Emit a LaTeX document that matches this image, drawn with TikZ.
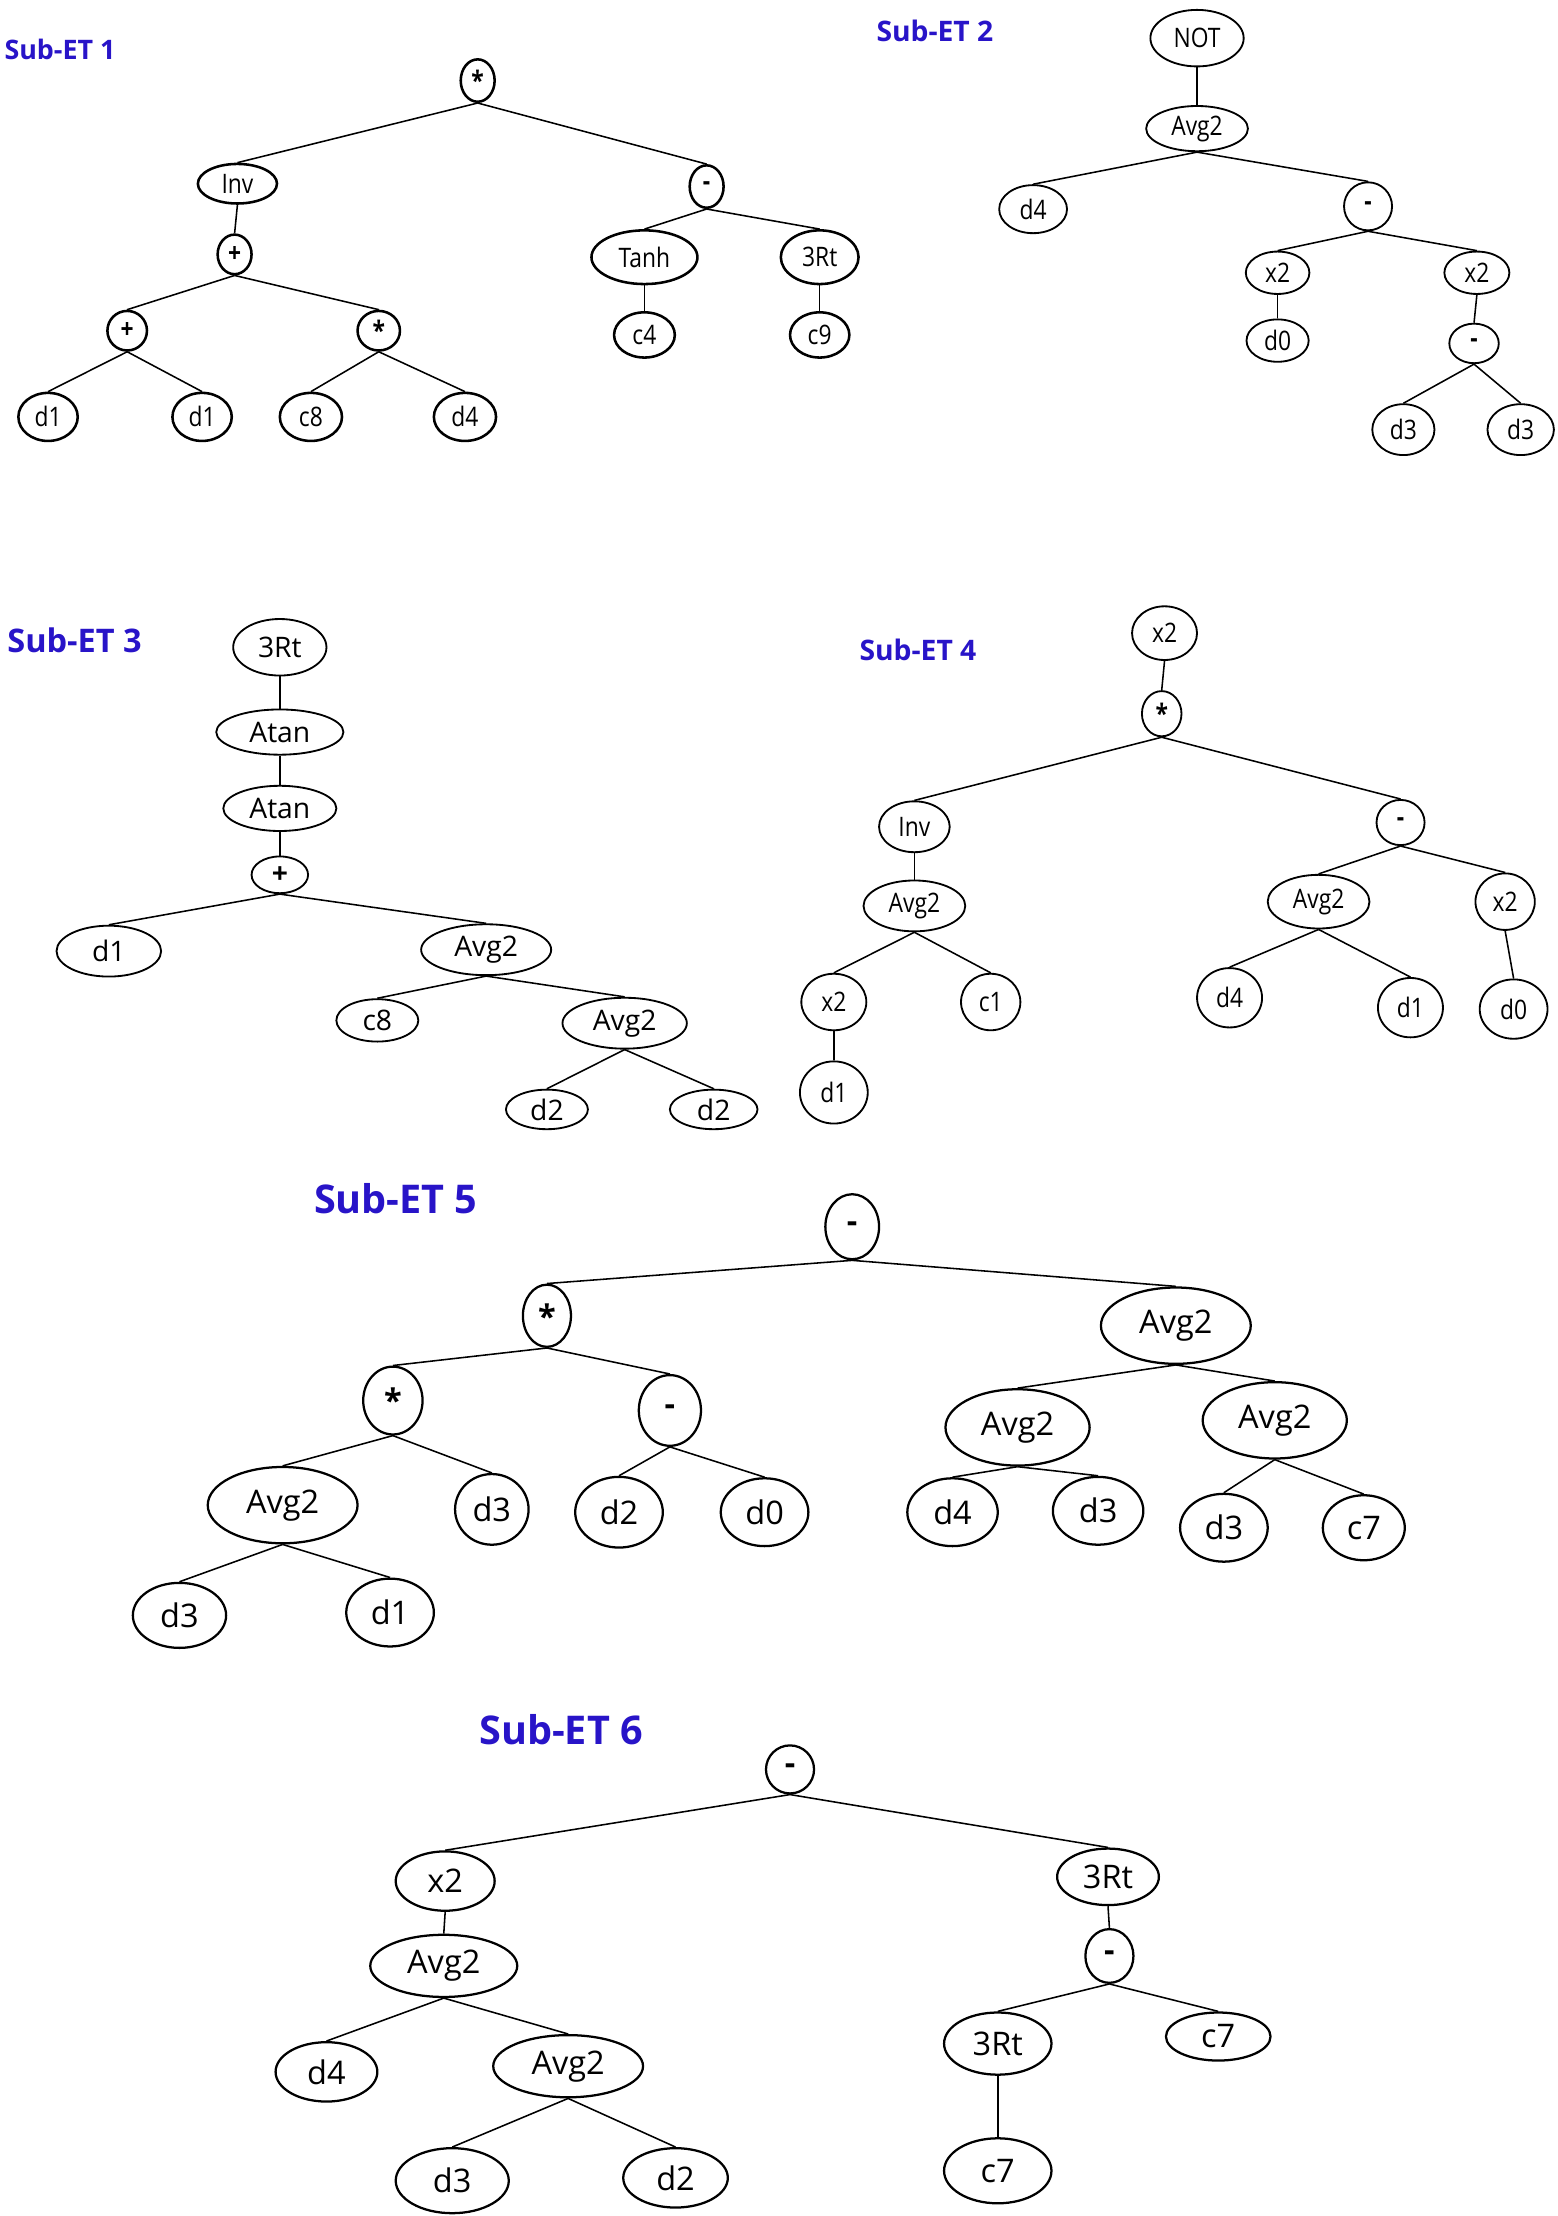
\documentclass[tikz,border=0pt]{standalone}
\usepackage{fontspec}
\setmainfont{Open Sans}
\newfontfamily\cndfont[FakeStretch=0.85]{Open Sans}
\usepackage{tikz}
\usetikzlibrary{shapes.geometric}
\definecolor{subblue}{RGB}{40,20,200}
\tikzset{
  nd/.style     ={ellipse,draw,inner sep=0pt},
  sz/.style 2 args={minimum width=#1pt,minimum height=#2pt},
  ndA/.style    ={nd,line width=1.8pt,font=\cndfont\fontsize{19}{21}\selectfont},
  ndB/.style    ={nd,line width=1.3pt,font=\cndfont\fontsize{19}{21}\selectfont},
  ndC/.style    ={nd,line width=1.3pt,font=\fontsize{20}{23}\selectfont},
  ndD/.style    ={nd,line width=1.6pt,font=\fontsize{23}{26}\selectfont},
  link/.style   ={line width=1.1pt},
  ttl/.style    ={anchor=west,inner sep=0pt,text=subblue},
}

\begin{document}
\begin{tikzpicture}[x=1pt,y=-1pt]
  \useasboundingbox (0,0) rectangle (1102,1568);

  % Sub-ET 1
  \node[ttl,font=\bfseries\fontsize{19}{22}\selectfont] (t1) at (3,35) {Sub-ET 1};
  \node[ndA,sz={24}{30}] (aroot)  at (338,57)  {\textbf{*}};
  \node[ndA,sz={56}{28}] (ainv)   at (168,130) {Inv};
  \node[ndA,sz={24}{30}] (amin)   at (500,132) {\textbf{-}};
  \node[ndA,sz={24}{28}] (aplus)  at (166,180) {\textbf{+}};
  \node[ndA,sz={28}{28}] (aplusl) at (90,234)  {\textbf{+}};
  \node[ndA,sz={30}{28}] (astar)  at (268,234) {\textbf{*}};
  \node[ndA,sz={42}{34}] (ad1l)   at (34,295)  {d1};
  \node[ndA,sz={42}{34}] (ad1r)   at (143,295) {d1};
  \node[ndA,sz={44}{34}] (ac8)    at (220,295) {c8};
  \node[ndA,sz={44}{34}] (ad4)    at (329,295) {d4};
  \node[ndA,sz={75}{38}] (atanh)  at (456,182) {Tanh};
  \node[ndA,sz={55}{38}] (art)    at (580,182) {3Rt};
  \node[ndA,sz={43}{32}] (ac4)    at (456,237) {c4};
  \node[ndA,sz={42}{32}] (ac9)    at (580,237) {c9};
  \foreach \p/\c in {aroot/ainv,aroot/amin,ainv/aplus,aplus/aplusl,aplus/astar,
      aplusl/ad1l,aplusl/ad1r,astar/ac8,astar/ad4,amin/atanh,amin/art,atanh/ac4,art/ac9}
    \draw[link] (\p.south) -- (\c.north);

  % Sub-ET 2
  \node[ttl,font=\bfseries\fontsize{20}{23}\selectfont] (t2) at (620,22) {Sub-ET 2};
  \node[ndB,sz={66}{40}] (bnot)  at (847,27)   {NOT};
  \node[ndB,sz={72}{32}] (bavg)  at (847,91)   {Avg2};
  \node[ndB,sz={48}{34}] (bd4)   at (731,148)  {d4};
  \node[ndB,sz={34}{34}] (bmin)  at (968,146)  {\textbf{-}};
  \node[ndB,sz={45}{30}] (bsqa)  at (904,193)  {x2};
  \node[ndB,sz={46}{30}] (bsqb)  at (1045,193) {x2};
  \node[ndB,sz={44}{30}] (bd0)   at (904,241)  {d0};
  \node[ndB,sz={35}{28}] (bminb) at (1043,243) {\textbf{-}};
  \node[ndB,sz={44}{36}] (bd3l)  at (993,304)  {d3};
  \node[ndB,sz={47}{36}] (bd3r)  at (1076,304) {d3};
  \foreach \p/\c in {bnot/bavg,bavg/bd4,bavg/bmin,bmin/bsqa,bmin/bsqb,
      bsqa/bd0,bsqb/bminb,bminb/bd3l,bminb/bd3r}
    \draw[link] (\p.south) -- (\c.north);

  % Sub-ET 3
  \node[ttl,font=\bfseries\fontsize{23}{26}\selectfont] (t3) at (5,453) {Sub-ET 3};
  \node[ndC,sz={66}{40}] (crt)    at (198,458) {3Rt};
  \node[ndC,sz={90}{32}] (catana) at (198,518) {Atan};
  \node[ndC,sz={80}{32}] (catanb) at (198,572) {Atan};
  \node[ndC,sz={40}{26}] (cplus)  at (198,619) {\textbf{+}};
  \node[ndC,sz={74}{36}] (cd1)    at (77,673)  {d1};
  \node[ndC,sz={92}{36}] (cavga)  at (344,672) {Avg2};
  \node[ndC,sz={58}{30}] (cc8)    at (267,722) {c8};
  \node[ndC,sz={88}{36}] (cavgb)  at (442,724) {Avg2};
  \node[ndC,sz={58}{28}] (cd2l)   at (387,785) {d2};
  \node[ndC,sz={62}{28}] (cd2r)   at (505,785) {d2};
  \foreach \p/\c in {crt/catana,catana/catanb,catanb/cplus,cplus/cd1,cplus/cavga,
      cavga/cc8,cavga/cavgb,cavgb/cd2l,cavgb/cd2r}
    \draw[link] (\p.south) -- (\c.north);

  % Sub-ET 4
  \node[ttl,font=\bfseries\fontsize{20}{23}\selectfont] (t4) at (608,460) {Sub-ET 4};
  \node[ndB,sz={46}{38}] (dsq)   at (824,448)  {x2};
  \node[ndB,sz={28}{32}] (dstar) at (822,505)  {\textbf{*}};
  \node[ndB,sz={50}{36}] (dinv)  at (647,585)  {Inv};
  \node[ndB,sz={34}{32}] (dmin)  at (991,582)  {\textbf{-}};
  \node[ndB,sz={72}{36}] (davgl) at (647,641)  {Avg2};
  \node[ndB,sz={46}{40}] (dsql)  at (590,709)  {x2};
  \node[ndB,sz={42}{40}] (dc1)   at (701,709)  {c1};
  \node[ndB,sz={48}{44}] (dd1l)  at (590,773)  {d1};
  \node[ndB,sz={72}{38}] (davgr) at (933,638)  {Avg2};
  \node[ndB,sz={42}{40}] (dsqr)  at (1065,638) {x2};
  \node[ndB,sz={46}{42}] (dd4)   at (870,706)  {d4};
  \node[ndB,sz={46}{42}] (dd1r)  at (998,713)  {d1};
  \node[ndB,sz={48}{42}] (dd0)   at (1071,714) {d0};
  \foreach \p/\c in {dsq/dstar,dstar/dinv,dstar/dmin,dinv/davgl,davgl/dsql,davgl/dc1,
      dsql/dd1l,dmin/davgr,dmin/dsqr,davgr/dd4,davgr/dd1r,dsqr/dd0}
    \draw[link] (\p.south) -- (\c.north);

  % Sub-ET 5
  \node[ttl,font=\bfseries\fontsize{28}{32}\selectfont] (t5) at (222,848) {Sub-ET 5};
  \node[ndD,sz={38}{46}]  (emin)   at (603,868)  {\textbf{-}};
  \node[ndD,sz={34}{44}]  (estara) at (387,931)  {\textbf{*}};
  \node[ndD,sz={106}{54}] (eavgr)  at (832,938)  {Avg2};
  \node[ndD,sz={42}{48}]  (estarb) at (278,991)  {\textbf{*}};
  \node[ndD,sz={44}{50}]  (eminb)  at (474,998)  {\textbf{-}};
  \node[ndD,sz={106}{54}] (eavgl)  at (200,1065) {Avg2};
  \node[ndD,sz={52}{50}]  (ed3a)   at (348,1068) {d3};
  \node[ndD,sz={62}{50}]  (ed2)    at (438,1070) {d2};
  \node[ndD,sz={62}{48}]  (ed0)    at (541,1070) {d0};
  \node[ndD,sz={102}{54}] (eavgm)  at (720,1010) {Avg2};
  \node[ndD,sz={102}{54}] (eavgn)  at (902,1005) {Avg2};
  \node[ndD,sz={64}{48}]  (ed4)    at (674,1070) {d4};
  \node[ndD,sz={64}{48}]  (ed3b)   at (777,1069) {d3};
  \node[ndD,sz={62}{48}]  (ed3c)   at (866,1081) {d3};
  \node[ndD,sz={58}{46}]  (ec7)    at (965,1081) {c7};
  \node[ndD,sz={66}{46}]  (ed3d)   at (127,1143) {d3};
  \node[ndD,sz={62}{48}]  (ed1)    at (276,1141) {d1};
  \foreach \p/\c in {emin/estara,emin/eavgr,estara/estarb,estara/eminb,estarb/eavgl,
      estarb/ed3a,eminb/ed2,eminb/ed0,eavgl/ed3d,eavgl/ed1,eavgr/eavgm,eavgr/eavgn,
      eavgm/ed4,eavgm/ed3b,eavgn/ed3c,eavgn/ec7}
    \draw[link] (\p.south) -- (\c.north);

  % Sub-ET 6
  \node[ttl,font=\bfseries\fontsize{28}{32}\selectfont] (t6) at (339,1224) {Sub-ET 6};
  \node[ndD,sz={34}{34}]  (fmin)  at (559,1252) {\textbf{-}};
  \node[ndD,sz={70}{42}]  (fsq)   at (315,1331) {x2};
  \node[ndD,sz={72}{40}]  (frt)   at (784,1328) {3Rt};
  \node[ndD,sz={104}{44}] (favga) at (314,1391) {Avg2};
  \node[ndD,sz={34}{38}]  (fminb) at (785,1384) {\textbf{-}};
  \node[ndD,sz={72}{42}]  (fd4)   at (231,1466) {d4};
  \node[ndD,sz={106}{44}] (favgb) at (402,1462) {Avg2};
  \node[ndD,sz={76}{44}]  (frtb)  at (706,1446) {3Rt};
  \node[ndD,sz={74}{34}]  (fc7a)  at (862,1441) {c7};
  \node[ndD,sz={80}{46}]  (fd3)   at (320,1543) {d3};
  \node[ndD,sz={74}{42}]  (fd2)   at (478,1541) {d2};
  \node[ndD,sz={76}{46}]  (fc7b)  at (706,1536) {c7};
  \foreach \p/\c in {fmin/fsq,fmin/frt,fsq/favga,favga/fd4,favga/favgb,favgb/fd3,
      favgb/fd2,frt/fminb,fminb/frtb,fminb/fc7a,frtb/fc7b}
    \draw[link] (\p.south) -- (\c.north);
\end{tikzpicture}
\end{document}
